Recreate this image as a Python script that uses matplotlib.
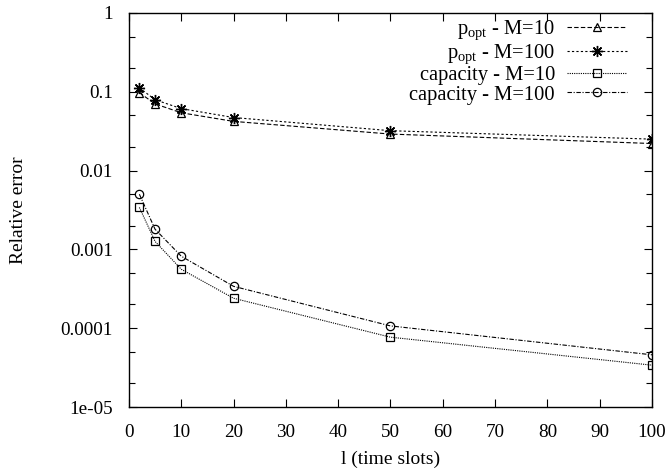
import matplotlib
matplotlib.use('Agg')
import matplotlib.pyplot as plt
from matplotlib.ticker import LogLocator, FixedLocator, NullFormatter, FixedFormatter

plt.rcParams['font.family'] = ['Liberation Serif', 'DejaVu Serif']
plt.rcParams['mathtext.fontset'] = 'custom'
plt.rcParams['mathtext.rm'] = 'Liberation Serif'
plt.rcParams['mathtext.it'] = 'Liberation Serif:italic'

# time slots
slots = [2, 5, 10, 20, 50, 100]

# relative errors
popt_m10 = [0.097, 0.070, 0.054, 0.042, 0.029, 0.022]
popt_m100 = [0.112, 0.079, 0.061, 0.047, 0.032, 0.025]
cap_m10 = [0.0034, 0.00126, 0.00056, 0.00024, 0.000077, 0.000034]
cap_m100 = [0.0050, 0.0018, 0.00082, 0.00034, 0.000107, 0.000046]

labels = [r'p$_{\mathrm{opt}}$ - M=10', r'p$_{\mathrm{opt}}$ - M=100',
          'capacity - M=10', 'capacity - M=100']
yticks = [1, 0.1, 0.01, 0.001, 0.0001, 1e-05]
ytick_labels = ['1', '0.1', '0.01', '0.001', '0.0001', '1e-05']

fig = plt.figure(figsize=(6.68, 4.75), dpi=100)
ax = fig.add_axes([0.193, 0.143, 0.783, 0.830])

lw = 0.8
ax.plot(slots, popt_m10, color='black', lw=lw, ls=(0, (4, 2)), marker='^',
        mfc='none', ms=6, mew=0.9, label=labels[0])
ax.plot(slots, popt_m100, color='black', lw=lw, ls=(0, (2, 2)), marker=(8, 2, 0),
        ms=8, mew=1.0, label=labels[1])
ax.plot(slots, cap_m10, color='black', lw=lw, ls=(0, (1, 1)), marker='s',
        mfc='none', ms=6, mew=0.9, label=labels[2])
ax.plot(slots, cap_m100, color='black', lw=lw, ls=(0, (4, 1.5, 1, 1.5)), marker='o',
        mfc='none', ms=6, mew=0.9, label=labels[3])

ax.set_yscale('log')
ax.set_xlim(0, 100)
ax.set_ylim(1e-05, 1)
ax.set_xticks(range(0, 101, 10))
ax.yaxis.set_major_locator(FixedLocator(yticks))
ax.yaxis.set_major_formatter(FixedFormatter(ytick_labels))
ax.yaxis.set_minor_locator(LogLocator(base=10, subs=(2, 5)))
ax.yaxis.set_minor_formatter(NullFormatter())

ax.tick_params(which='both', direction='in', top=True, right=True, labelsize=13.8)
ax.tick_params(which='major', length=6, width=0.8)
ax.tick_params(which='minor', length=4, width=0.8)
ax.tick_params(axis='x', pad=12)
ax.tick_params(axis='y', pad=11.5)
for s in ax.spines.values():
    s.set_linewidth(1.0)

ax.set_xlabel('l (time slots)', fontsize=14, labelpad=7)
ax.set_ylabel('Relative error', fontsize=14, labelpad=24)

ax.legend(loc='upper right', bbox_to_anchor=(0.952, 0.985), frameon=False,
          markerfirst=False, alignment='right', fontsize=14.8, handlelength=2.9,
          labelspacing=0.0, borderaxespad=0, borderpad=0, handletextpad=0.6)

fig.savefig('out.png', dpi=100)
